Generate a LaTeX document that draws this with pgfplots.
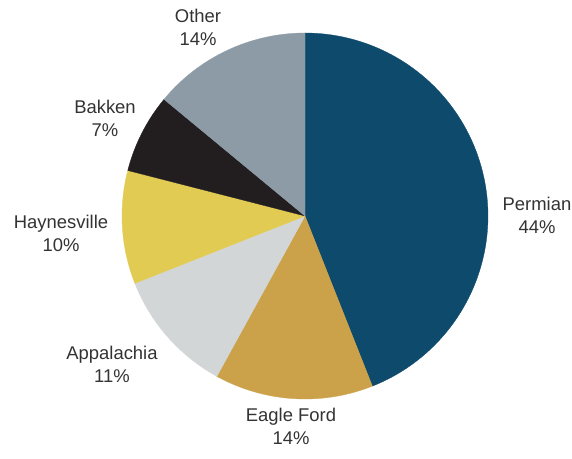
\documentclass[border=0pt]{standalone}
\usepackage{pgfplots}
\usepackage{pgfplotstable}
\pgfplotsset{compat=1.18}
\usepackage{fontspec}
\setmainfont{Liberation Sans}
\definecolor{cPermian}{HTML}{0D4A6B}
\definecolor{cEagle}{HTML}{CBA24A}
\definecolor{cApp}{HTML}{D3D6D6}
\definecolor{cHay}{HTML}{E2CB52}
\definecolor{cBak}{HTML}{221E1F}
\definecolor{cOther}{HTML}{8C9BA5}
\definecolor{txt}{HTML}{333333}
\pgfplotstableread{
label value
Permian 44
EagleFord 14
Appalachia 11
Haynesville 10
Bakken 7
Other 14
}\pietable
\newcommand\getv[2]{\pgfplotstablegetelem{#1}{value}\of\pietable\edef#2{\pgfplotsretval}}
\getv{0}\vA \getv{1}\vB \getv{2}\vC \getv{3}\vD \getv{4}\vE \getv{5}\vF
\pgfmathsetmacro\cA{0}
\pgfmathsetmacro\cB{\cA+\vA}
\pgfmathsetmacro\cC{\cB+\vB}
\pgfmathsetmacro\cD{\cC+\vC}
\pgfmathsetmacro\cE{\cD+\vD}
\pgfmathsetmacro\cF{\cE+\vE}
\pgfmathsetmacro\cG{\cF+\vF}
\newcommand\ang[1]{\pgfmathsetmacro\tmp{90-3.6*#1}}
\pgfmathsetmacro\aA{90-3.6*\cA}
\pgfmathsetmacro\aB{90-3.6*\cB}
\pgfmathsetmacro\aC{90-3.6*\cC}
\pgfmathsetmacro\aD{90-3.6*\cD}
\pgfmathsetmacro\aE{90-3.6*\cE}
\pgfmathsetmacro\aF{90-3.6*\cF}
\pgfmathsetmacro\aG{90-3.6*\cG}
\begin{document}
\begin{tikzpicture}
\begin{axis}[
  scale only axis, width=572bp, height=459bp,
  xmin=0, xmax=572, ymin=0, ymax=459,
  hide axis, clip=false,
  every axis plot/.append style={samples=120, variable=\t, line width=0.3pt},
]
\addplot[fill=cPermian, draw=cPermian, domain=\aB:\aA] ({305+183*cos(\t)},{243+183*sin(\t)}) -- (axis cs:305,243) -- cycle;
\addplot[fill=cEagle, draw=cEagle, domain=\aC:\aB] ({305+183*cos(\t)},{243+183*sin(\t)}) -- (axis cs:305,243) -- cycle;
\addplot[fill=cApp, draw=cApp, domain=\aD:\aC] ({305+183*cos(\t)},{243+183*sin(\t)}) -- (axis cs:305,243) -- cycle;
\addplot[fill=cHay, draw=cHay, domain=\aE:\aD] ({305+183*cos(\t)},{243+183*sin(\t)}) -- (axis cs:305,243) -- cycle;
\addplot[fill=cBak, draw=cBak, domain=\aF:\aE] ({305+183*cos(\t)},{243+183*sin(\t)}) -- (axis cs:305,243) -- cycle;
\addplot[fill=cOther, draw=cOther, domain=\aG:\aF] ({305+183*cos(\t)},{243+183*sin(\t)}) -- (axis cs:305,243) -- cycle;
\tikzset{lab/.style={align=center, text=txt, font=\fontsize{18.5}{23}\selectfont, inner sep=0pt}}
\node[lab] at (axis cs:198,432) {Other\\14\%};
\node[lab] at (axis cs:105,341) {Bakken\\7\%};
\node[lab] at (axis cs:61,226) {Haynesville\\10\%};
\node[lab] at (axis cs:112,95) {Appalachia\\11\%};
\node[lab] at (axis cs:291,33) {Eagle Ford\\14\%};
\node[lab] at (axis cs:537,244) {Permian\\44\%};
\end{axis}
\pgfresetboundingbox
\useasboundingbox (0,0) rectangle (572bp,459bp);
\end{tikzpicture}
\end{document}
